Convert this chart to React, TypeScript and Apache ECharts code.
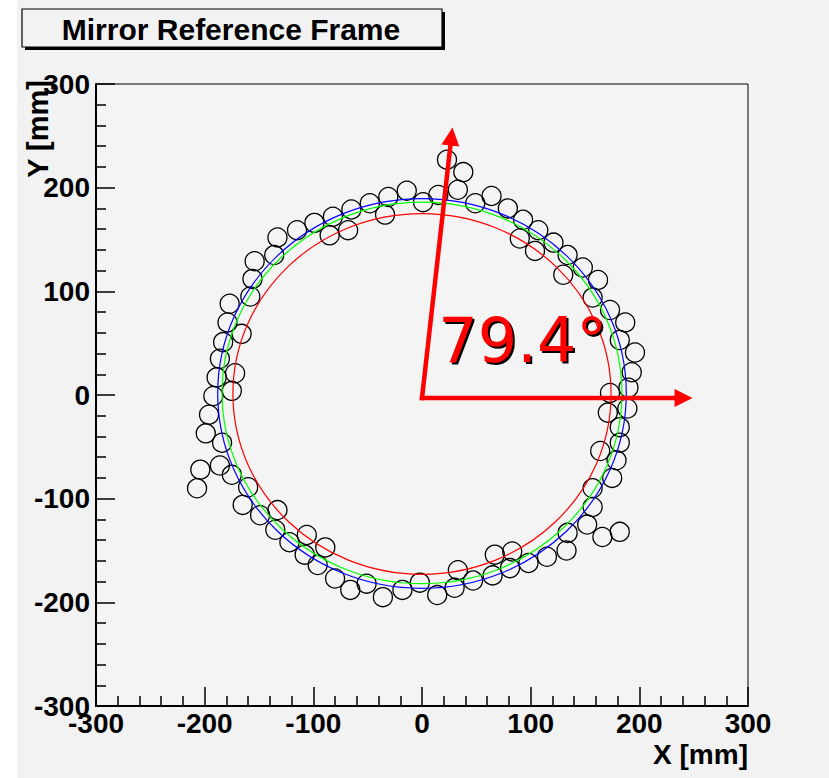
import React, { useEffect, useRef } from 'react';
import * as echarts from 'echarts';

// Measured hit positions [x mm, y mm]
const hits: number[][] = [
  [-133, 152], [-115, 159], [-99, 166], [-82, 172], [-65, 179], [-48, 185], [-31, 191], [-14, 197],
  [1, 186], [15, 193], [23, 227], [38, 215], [33, 198], [49, 185], [64, 192], [79, 180],
  [93, 169], [107, 159], [121, 147], [90, 151], [104, 139], [-34, 174], [-68, 159], [-85, 154],
  [-154, 129], [-136, 135], [-156, 112], [-158, 95], [-177, 88], [-179, 70], [-166, 59], [-183, 51],
  [-186, 35], [-172, 21], [-189, 17], [-175, 4], [-192, -1], [-196, -19], [-199, -37], [-184, -46],
  [-186, -68], [-204, -72], [-207, -90], [-175, -77], [-160, -89], [-165, -106], [-149, -116], [-133, -111],
  [-135, -130], [-122, -142], [-106, -135], [-89, -147], [-108, -154], [-96, -164], [-80, -177], [-66, -188],
  [-51, -182], [-36, -195], [-18, -188], [-2, -181], [14, -193], [30, -186], [33, -169], [47, -179],
  [65, -174], [67, -154], [83, -151], [81, -167], [98, -162], [115, -156], [133, -150], [134, -133],
  [152, -125], [166, -137], [182, -132], [157, -108], [157, -90], [175, -80], [179, -63], [164, -54],
  [182, -46], [182, -31], [171, -17], [189, -13], [173, 2], [190, 7], [193, 22], [196, 41],
  [182, 53], [187, 70], [173, 82], [157, 94], [162, 111], [148, 123], [130, 116], [134, 135],
];

// Fitted rings: red, green, blue
const fitCenterX = [0, 0, 0];
const fitCenterY = [1, 2, 1.5];
const fitRadius = [174, 184, 188];
const fitColors = ['#ff0000', '#00ff00', '#0000ff'];

// Arrows (mm)
const arrowFromX = [0, 0];
const arrowFromY = [-3, -3];
const arrowToX = [249, 28];
const arrowToY = [-3, 258];

const angleText = '79.4°';
const angleTextPos = [15, 53];

const axisMin = -300;
const axisMax = 300;
const axisStep = 100;

const titleText = 'Mirror Reference Frame';
const xTitle = 'X [mm]';
const yTitle = 'Y [mm]';

const labelFont = 'Liberation Sans';

export default function App() {
  const ref = useRef<HTMLDivElement>(null);
  useEffect(() => {
    const chart = echarts.init(ref.current!, null, { renderer: 'svg' });
    const option: any = {
      animation: false,
      backgroundColor: '#f2f2f2',
      graphic: [
        { type: 'rect', shape: { x: 0, y: 0, width: 17, height: 778 }, style: { fill: '#ffffff' }, silent: true },
        { type: 'rect', shape: { x: 25, y: 12, width: 420, height: 38 }, style: { fill: '#000000' }, silent: true },
        { type: 'rect', shape: { x: 22, y: 9, width: 420, height: 38 }, style: { fill: '#f2f2f2', stroke: '#000000', lineWidth: 1.2 }, silent: true },
        {
          type: 'text', x: 231, y: 29,
          style: { text: titleText, fill: '#000', fontFamily: labelFont, fontWeight: 'bold', fontSize: 30, align: 'center', textAlign: 'center', verticalAlign: 'middle', textVerticalAlign: 'middle' },
          silent: true,
        },
        {
          type: 'text', x: 748, y: 754,
          style: { text: xTitle, fill: '#000', fontFamily: labelFont, fontWeight: 'bold', fontSize: 28, align: 'right', textAlign: 'right', verticalAlign: 'middle', textVerticalAlign: 'middle' },
          silent: true,
        },
        {
          type: 'text', x: 38, y: 80, rotation: Math.PI / 2,
          style: { text: yTitle, fill: '#000', fontFamily: labelFont, fontWeight: 'bold', fontSize: 29, align: 'right', textAlign: 'right', verticalAlign: 'middle', textVerticalAlign: 'middle' },
          silent: true,
        },
      ],
      grid: {
        left: 96, right: 81, top: 84, bottom: 72,
        show: true, backgroundColor: '#f4f4f4', borderColor: '#000', borderWidth: 1,
      },
      xAxis: {
        type: 'value', min: axisMin, max: axisMax, interval: axisStep,
        axisLine: { show: true, onZero: false, lineStyle: { color: '#000', width: 2 } },
        axisTick: { show: true, inside: true, length: 19, lineStyle: { color: '#000', width: 1.5 } },
        minorTick: { show: true, splitNumber: 5, length: 10, lineStyle: { color: '#000', width: 1.5 } },
        splitLine: { show: false },
        minorSplitLine: { show: false },
        axisLabel: { color: '#000', fontFamily: labelFont, fontWeight: 'bold', fontSize: 28, margin: 3, showMinLabel: true, showMaxLabel: true },
      },
      yAxis: {
        type: 'value', min: axisMin, max: axisMax, interval: axisStep,
        axisLine: { show: true, onZero: false, lineStyle: { color: '#000', width: 2 } },
        axisTick: { show: true, inside: true, length: 19, lineStyle: { color: '#000', width: 1.5 } },
        minorTick: { show: true, splitNumber: 5, length: 10, lineStyle: { color: '#000', width: 1.5 } },
        splitLine: { show: false },
        minorSplitLine: { show: false },
        axisLabel: { color: '#000', fontFamily: labelFont, fontWeight: 'bold', fontSize: 28, margin: 6, showMinLabel: true, showMaxLabel: true },
      },
      series: [
        {
          type: 'scatter',
          data: hits,
          symbol: 'circle',
          symbolSize: 19,
          itemStyle: { color: 'rgba(0,0,0,0)', borderColor: '#000', borderWidth: 1.3, opacity: 1 },
          silent: true,
          z: 2,
        },
        {
          type: 'custom',
          coordinateSystem: 'cartesian2d',
          data: fitRadius.map((r, i) => [fitCenterX[i], fitCenterY[i], r, i]),
          encode: { x: 0, y: 1 },
          renderItem: (params: any, api: any) => {
            const c = api.coord([api.value(0), api.value(1)]);
            const s = api.size([api.value(2), api.value(2)]);
            return {
              type: 'ellipse',
              shape: { cx: c[0], cy: c[1], rx: s[0], ry: s[1] },
              style: { fill: 'none', stroke: fitColors[api.value(3)], lineWidth: 1.2 },
            };
          },
          silent: true,
          z: 3,
        },
        {
          type: 'custom',
          coordinateSystem: 'cartesian2d',
          data: arrowToX.map((x, i) => [arrowFromX[i], arrowFromY[i], x, arrowToY[i]]),
          encode: { x: [0, 2], y: [1, 3] },
          renderItem: (params: any, api: any) => {
            const p0 = api.coord([api.value(0), api.value(1)]);
            const p1 = api.coord([api.value(2), api.value(3)]);
            const dx = p1[0] - p0[0];
            const dy = p1[1] - p0[1];
            const L = Math.hypot(dx, dy);
            const ux = dx / L;
            const uy = dy / L;
            const head = 18;
            const half = 9;
            const bx = p1[0] - ux * head;
            const by = p1[1] - uy * head;
            return {
              type: 'group',
              children: [
                {
                  type: 'line',
                  shape: { x1: p0[0], y1: p0[1], x2: bx + ux * 2, y2: by + uy * 2 },
                  style: { stroke: '#ff0000', lineWidth: 4.5, lineCap: 'square' },
                },
                {
                  type: 'polygon',
                  shape: { points: [[p1[0], p1[1]], [bx - uy * half, by + ux * half], [bx + uy * half, by - ux * half]] },
                  style: { fill: '#ff0000' },
                },
              ],
            };
          },
          silent: true,
          z: 4,
        },
        {
          type: 'custom',
          coordinateSystem: 'cartesian2d',
          data: [angleTextPos],
          renderItem: (params: any, api: any) => {
            const c = api.coord([api.value(0), api.value(1)]);
            const base = { text: angleText, fontFamily: 'DejaVu Sans', fontSize: 62, align: 'left', textAlign: 'left', verticalAlign: 'middle', textVerticalAlign: 'middle' };
            return {
              type: 'group',
              children: [
                { type: 'text', x: c[0] + 2, y: c[1] + 2, style: { ...base, fill: '#000000' } },
                { type: 'text', x: c[0], y: c[1], style: { ...base, fill: '#ff0000' } },
              ],
            };
          },
          silent: true,
          z: 5,
        },
      ],
    };
    chart.setOption(option);
    return () => chart.dispose();
  }, []);
  return <div ref={ref} style={{ position: 'absolute', left: 0, top: 0, width: 829, height: 778 }} />;
}
